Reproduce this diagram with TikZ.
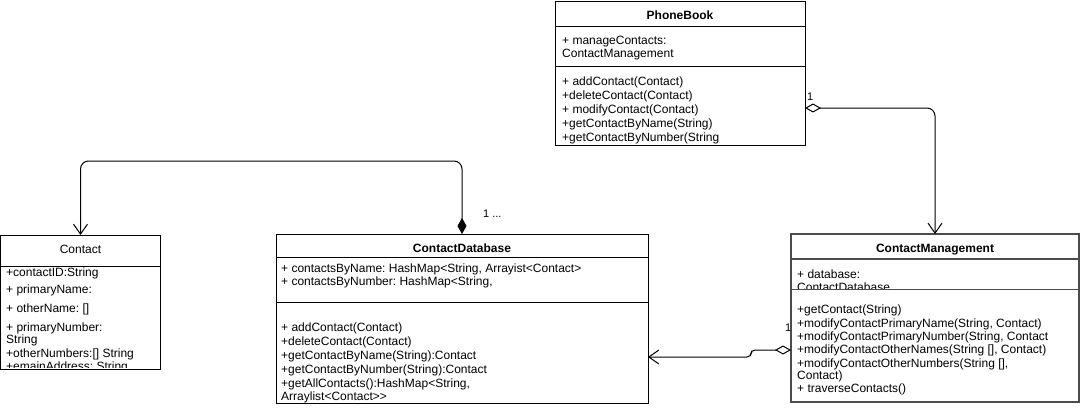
\documentclass[tikz,border=0pt]{standalone}
\usepackage{fontspec}
\setmainfont{Liberation Sans}
\frenchspacing
\usetikzlibrary{arrows.meta}

\begin{document}
\begin{tikzpicture}[x=1pt,y=-1pt,
  classbox/.style={draw,line width=1pt,inner sep=0pt,outer sep=0pt,anchor=north west},
  classname/.style={font=\fontsize{12}{14}\selectfont\bfseries,anchor=base,inner sep=0pt},
  member/.style={font=\fontsize{12}{14}\selectfont,anchor=base west,inner sep=0pt},
  mult/.style={font=\fontsize{11}{13}\selectfont,anchor=base west,inner sep=0pt},
  aggr/.style={line width=1pt,{Diamond[open,length=16pt,width=9pt]}-{Straight Barb[length=10pt,width=14pt]}},
  comp/.style={line width=1pt,{Diamond[length=16pt,width=9pt]}-{Straight Barb[length=10pt,width=14pt]}}]
  \useasboundingbox (0,0) rectangle (1081,408);

  % class boxes
  \node[classbox,minimum width=250pt,minimum height=144pt] (pb) at (555,1) {};
  \node[classbox,minimum width=160pt,minimum height=134pt] (contact) at (0.5,235) {};
  \node[classbox,minimum width=372pt,minimum height=169pt] (cdb) at (276,234) {};
  \node[classbox,minimum width=288pt,minimum height=168pt,draw=black!70,line width=1.3pt] (cm) at (791,234) {};

  \draw[line width=1pt] (pb.west |- 0,26) -- (pb.east |- 0,26);
  \draw[line width=1pt] (pb.west |- 0,66) -- (pb.east |- 0,66);
  \draw[line width=1pt] (contact.west |- 0,266) -- (contact.east |- 0,266);
  \draw[line width=1pt] (cdb.west |- 0,257) -- (cdb.east |- 0,257);
  \draw[line width=1pt] (cdb.west |- 0,302) -- (cdb.east |- 0,302);
  \draw[line width=1.3pt,black!70] (cm.west |- 0,259) -- (cm.east |- 0,259);
  \draw[line width=1.3pt,black!70] (cm.west |- 0,289.5) -- (cm.east |- 0,289.5);

  % PhoneBook
  \node[classname] (pbname) at (680,19) {PhoneBook};
  \node[member] (pba1) at (562,44) {+ manageContacts:};
  \node[member] (pba2) at (562,57) {ContactManagement};
  \node[member] (pbm1) at (562,85) {+ addContact(Contact)};
  \node[member] (pbm2) at (562,99) {+deleteContact(Contact)};
  \node[member] (pbm3) at (562,113) {+ modifyContact(Contact)};
  \node[member] (pbm4) at (562,127) {+getContactByName(String)};
  \node[member] (pbm5) at (562,141) {+getContactByNumber(String};

  % Contact
  \node[classname,font=\fontsize{12}{14}\selectfont] (ctname) at (80.5,253) {Contact};
  \node[member] (cta1) at (6,276) {+contactID:String};
  \node[member] (cta2) at (6,293) {+ primaryName:};
  \node[member] (cta3) at (6,312) {+ otherName: []};
  \node[member] (cta4) at (6,331) {+ primaryNumber:};
  \node[member] (cta5) at (6,343) {String};
  \node[member] (cta6) at (6,357) {+otherNumbers:[] String};
  \begin{scope}
    \clip (0,355) rectangle (160,367);
    \node[member] (cta7) at (6,370.5) {+emainAddress: String};
  \end{scope}

  % ContactDatabase
  \node[classname] (cdbname) at (462,252) {ContactDatabase};
  \node[member] (cdba1) at (281,272) {+ contactsByName: HashMap<String, Arrayist<Contact>};
  \node[member] (cdba2) at (281,285) {+ contactsByNumber: HashMap<String,};
  \node[member] (cdbm1) at (281,331) {+ addContact(Contact)};
  \node[member] (cdbm2) at (281,345) {+deleteContact(Contact)};
  \node[member] (cdbm3) at (281,359) {+getContactByName(String):Contact};
  \node[member] (cdbm4) at (281,373) {+getContactByNumber(String):Contact};
  \node[member] (cdbm5) at (281,387) {+getAllContacts():HashMap<String,};
  \node[member] (cdbm6) at (281,400) {Arraylist<Contact>\kern0pt>};

  % ContactManagement
  \node[classname] (cmname) at (935,252) {ContactManagement};
  \node[member] (cma1) at (797,278) {+ database:};
  \begin{scope}
    \clip (792,280) rectangle (1078,288.5);
    \node[member] (cma2) at (797,291) {ContactDatabase};
  \end{scope}
  \node[member] (cmm1) at (797,313) {+getContact(String)};
  \node[member] (cmm2) at (797,327) {+modifyContactPrimaryName(String, Contact)};
  \node[member] (cmm3) at (797,340) {+modifyContactPrimaryNumber(String, Contact};
  \node[member] (cmm4) at (797,353.5) {+modifyContactOtherNames(String [], Contact)};
  \node[member] (cmm5) at (797,367) {+modifyContactOtherNumbers(String [],};
  \node[member] (cmm6) at (797,379.5) {Contact)};
  \node[member] (cmm7) at (797,392) {+ traverseContacts()};

  % associations
  \draw[aggr,rounded corners=8pt] (pb.east |- 0,108) -| (cm.north);
  \node[mult] (pbmult) at (807,100) {1};
  \draw[comp,rounded corners=8pt] (cdb.north) -- (cdb.north |- 0,161) -| (contact.north);
  \node[mult] (cdbmult) at (483,217) {1 ...};
  \draw[aggr,rounded corners=4pt] (cm.west |- 0,350) -- (751,350) -- (751,357) -- (cdb.east |- 0,357);
  \node[mult] (cmmult) at (785,331) {1};
\end{tikzpicture}
\end{document}
